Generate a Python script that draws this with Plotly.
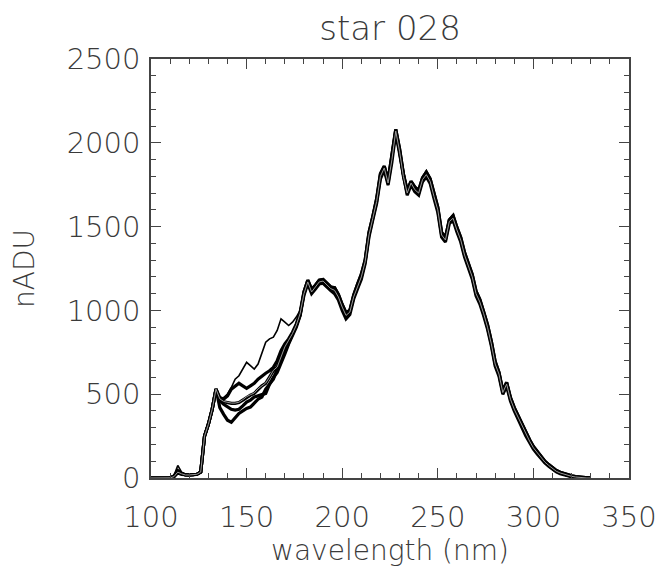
import plotly.graph_objects as go

# wavelength grid (nm)
wavelength = list(range(100, 332, 2))

# --- shared pieces ---
start_flat = [0, 0, 0, 0, 0, 1]                      # 100..110 nm
rise = [18, 18, 22, 35, 250, 320, 410, 530]          # 120..134 nm

# 180..330 nm, three slightly different strands of the bundle
tail_mid = [1100, 1170, 1110, 1140, 1170, 1175, 1150, 1130, 1120, 1080,
            1020, 970, 990, 1080, 1140, 1200, 1290, 1450, 1550, 1650,
            1800, 1850, 1760, 1900, 2070, 1950, 1800, 1700, 1760, 1720,
            1700, 1780, 1810, 1770, 1680, 1600, 1450, 1420, 1530, 1550,
            1480, 1420, 1330, 1260, 1200, 1100, 1050, 980, 900, 800,
            680, 620, 510, 560, 470, 410, 360, 310, 260, 220,
            180, 150, 120, 95, 75, 55, 40, 30, 22, 15,
            10, 6, 3, 1, 0, 0]
tail_hi = [1110, 1180, 1125, 1150, 1180, 1185, 1165, 1140, 1135, 1095,
           1035, 985, 1000, 1090, 1155, 1215, 1300, 1465, 1560, 1665,
           1815, 1860, 1775, 1915, 2080, 1965, 1815, 1715, 1770, 1735,
           1715, 1790, 1825, 1785, 1695, 1615, 1465, 1435, 1540, 1565,
           1495, 1435, 1345, 1275, 1215, 1115, 1065, 990, 915, 815,
           695, 630, 520, 570, 480, 420, 370, 320, 270, 228,
           188, 156, 126, 100, 80, 60, 45, 34, 26, 18,
           13, 8, 5, 2, 0, 0]
tail_lo = [1090, 1160, 1100, 1128, 1158, 1162, 1138, 1118, 1100, 1062,
           1000, 950, 975, 1068, 1128, 1186, 1278, 1438, 1540, 1638,
           1785, 1838, 1748, 1885, 2060, 1935, 1788, 1688, 1748, 1708,
           1688, 1768, 1798, 1758, 1668, 1585, 1438, 1408, 1518, 1538,
           1468, 1408, 1318, 1248, 1188, 1088, 1038, 968, 888, 788,
           668, 608, 500, 548, 460, 400, 350, 300, 252, 212,
           172, 144, 114, 90, 70, 50, 36, 26, 18, 12,
           7, 4, 2, 0, 0, 0]

# --- per-spectrum parts: bump (112..118 nm) and blue wing (136..178 nm) ---
bump_1 = [15, 75, 35, 20]
bump_2 = [10, 45, 28, 20]
bump_3 = [8, 35, 25, 18]
bump_4 = [8, 30, 22, 18]
bump_5 = [12, 40, 26, 19]
bump_g = [8, 35, 25, 18]

wing_1 = [470, 480, 500, 540, 590, 610, 650, 690, 670, 650, 680, 740, 810, 830, 840, 880, 950, 930, 910, 930, 960, 1000]
wing_2 = [480, 470, 490, 530, 550, 565, 550, 535, 550, 565, 590, 610, 625, 640, 660, 700, 760, 800, 830, 870, 920, 990]
wing_3 = [470, 455, 450, 445, 445, 450, 465, 483, 495, 505, 530, 550, 565, 600, 640, 660, 720, 780, 820, 860, 910, 980]
wing_4 = [460, 440, 423, 410, 405, 410, 430, 453, 465, 483, 490, 500, 505, 560, 600, 630, 680, 740, 800, 850, 900, 970]
wing_5 = [420, 380, 345, 333, 360, 385, 400, 415, 423, 450, 470, 483, 530, 560, 590, 650, 700, 760, 810, 860, 910, 970]
wing_g = [472, 457, 452, 447, 447, 452, 467, 485, 497, 507, 532, 552, 567, 602, 642, 662, 722, 782, 822, 862, 912, 982]

spectra = [
    ("s1", bump_1, wing_1, tail_lo, "#000000", 1.6),
    ("s2", bump_2, wing_2, tail_hi, "#000000", 3.2),
    ("s3", bump_3, wing_3, tail_mid, "#000000", 3.2),
    ("s4", bump_4, wing_4, tail_lo, "#000000", 3.2),
    ("s5", bump_5, wing_5, tail_hi, "#000000", 3.2),
    ("sg", bump_g, wing_g, tail_mid, "#9a9a9a", 1.0),
]

fig = go.Figure()
for name, bump, wing, tail, color, width in spectra:
    y = start_flat + bump + rise + wing + tail
    fig.add_trace(go.Scatter(x=wavelength, y=y, mode="lines", name=name,
                             line=dict(color=color, width=width),
                             showlegend=False))

font_family = "DejaVu Sans"
text_color = "#3a3a3a"
tick_font = dict(family=font_family, size=29, color=text_color, weight=200)
axis_common = dict(
    ticks="inside", ticklen=10, tickwidth=1.3, tickcolor="#444444",
    showline=True, linecolor="#444444", linewidth=1.5, mirror="ticks",
    showgrid=False, zeroline=False, tickfont=tick_font,
)

fig.update_xaxes(range=[100, 350], tick0=100, dtick=50, ticklabelstandoff=12,
                 minor=dict(dtick=10, ticks="inside", ticklen=5, tickcolor="#444444", tickwidth=1.2),
                 title=dict(text="wavelength (nm)", standoff=6,
                            font=dict(family=font_family, size=28, color=text_color, weight=200)),
                 **axis_common)
fig.update_yaxes(range=[0, 2500], tick0=0, dtick=500, ticklabelstandoff=3,
                 minor=dict(dtick=100, ticks="inside", ticklen=5, tickcolor="#444444", tickwidth=1.2),
                 title=dict(text="nADU", standoff=24,
                            font=dict(family=font_family, size=28, color=text_color, weight=200)),
                 **axis_common)

fig.update_layout(
    width=668, height=568,
    margin=dict(l=151, r=39, t=59, b=90, autoexpand=False),
    paper_bgcolor="white", plot_bgcolor="white",
    title=dict(text="star 028", x=0.5, xref="paper", xanchor="center",
               y=1 - 28 / 568, yref="container", yanchor="middle",
               font=dict(family=font_family, size=34, color=text_color, weight=200)),
)

fig.write_html("out.html")
